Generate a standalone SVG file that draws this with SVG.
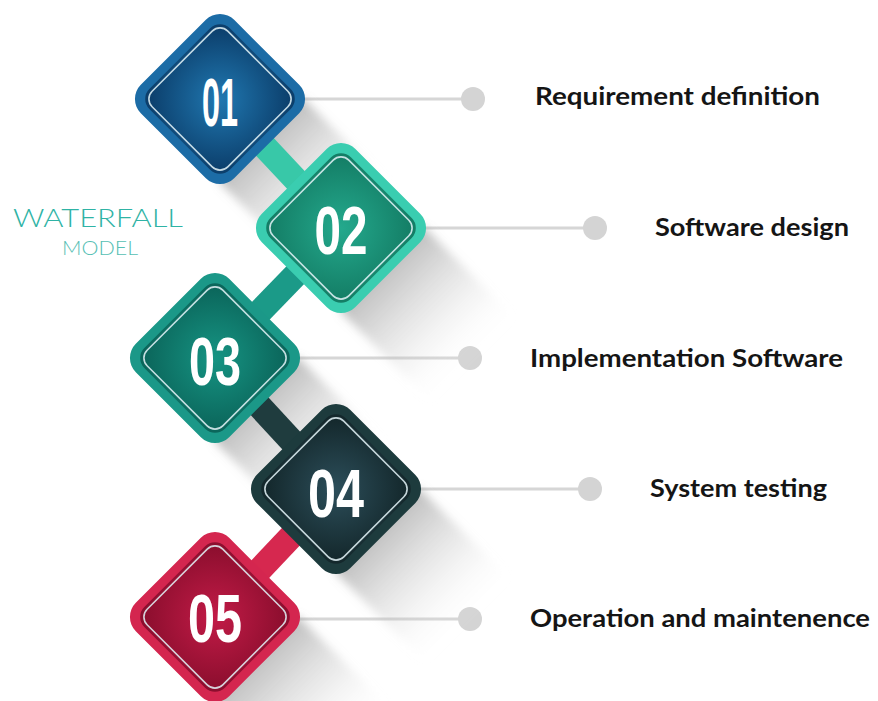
<svg xmlns="http://www.w3.org/2000/svg" xmlns:xlink="http://www.w3.org/1999/xlink" width="878" height="701" viewBox="0 0 878 701">
  <style>
    .num { font-family: "Liberation Sans", Arial, sans-serif; font-weight: 700; font-size: 68px; fill: #ffffff; text-anchor: middle; }
    .label { font-family: Lato, "Liberation Sans", sans-serif; font-weight: 700; font-size: 25px; fill: #151515; }
    .guide { stroke: #d6d6d6; stroke-width: 3; fill: none; }
    .dot { fill: #d4d4d4; }
    .bar { stroke-width: 25; stroke-linecap: butt; fill: none; }
    .rim { fill: none; stroke: #e4f4f8; stroke-width: 1.6; opacity: 0.85; }
    .shadow { fill: url(#shade); filter: url(#soft); }
  </style>
  <defs>
    <!-- rounded squares turned 45 degrees, centred on the origin -->
    <rect id="dOuter" x="-66" y="-66" width="132" height="132" rx="20" transform="rotate(45)"/>
    <rect id="dInner" x="-57" y="-57" width="114" height="114" rx="14" transform="rotate(45)"/>
    <rect id="dLine" x="-53.5" y="-53.5" width="107" height="107" rx="11" transform="rotate(45)"/>
    <!-- long cast shadow toward the lower right -->
    <polygon id="dShadow" points="0,0 84,0 174,90 90,174 0,84"/>
    <linearGradient id="shade" x1="0" y1="0" x2="1" y2="1">
      <stop offset="0.24" stop-color="#8a8a8a" stop-opacity="0.55"/>
      <stop offset="0.5" stop-color="#b0b0b0" stop-opacity="0.25"/>
      <stop offset="0.78" stop-color="#ffffff" stop-opacity="0"/>
    </linearGradient>
    <filter id="soft" x="-20%" y="-20%" width="140%" height="140%">
      <feGaussianBlur stdDeviation="5"/>
    </filter>
    <radialGradient id="g1" cx="0.5" cy="0.5" r="0.62">
      <stop offset="0" stop-color="#2078b1"/>
      <stop offset="1" stop-color="#0c3f6c"/>
    </radialGradient>
    <radialGradient id="g2" cx="0.5" cy="0.5" r="0.62">
      <stop offset="0" stop-color="#24a98d"/>
      <stop offset="1" stop-color="#147e66"/>
    </radialGradient>
    <radialGradient id="g3" cx="0.5" cy="0.5" r="0.62">
      <stop offset="0" stop-color="#169483"/>
      <stop offset="1" stop-color="#0b665b"/>
    </radialGradient>
    <radialGradient id="g4" cx="0.5" cy="0.5" r="0.62">
      <stop offset="0" stop-color="#2c4e5a"/>
      <stop offset="1" stop-color="#14282c"/>
    </radialGradient>
    <radialGradient id="g5" cx="0.5" cy="0.5" r="0.62">
      <stop offset="0" stop-color="#c21b47"/>
      <stop offset="1" stop-color="#8c0e2e"/>
    </radialGradient>
  </defs>

  <rect width="878" height="701" fill="#ffffff"/>

  <!-- title -->
  <g id="title" font-family="Lato, 'Liberation Sans', sans-serif" font-weight="300">
    <text x="13" y="227" font-size="26" fill="#2fb3a5" textLength="170" lengthAdjust="spacingAndGlyphs">WATERFALL</text>
    <text x="62" y="255" font-size="20" fill="#56c0b4" textLength="76" lengthAdjust="spacingAndGlyphs">MODEL</text>
  </g>

  <!-- guide lines and end dots -->
  <g id="guides">
    <line class="guide" x1="300" y1="99" x2="473" y2="99"/>
    <circle class="dot" cx="473" cy="99" r="12"/>
    <line class="guide" x1="420" y1="228" x2="595" y2="228"/>
    <circle class="dot" cx="595" cy="228" r="12"/>
    <line class="guide" x1="295" y1="358" x2="470" y2="358"/>
    <circle class="dot" cx="470" cy="358" r="12"/>
    <line class="guide" x1="415" y1="489" x2="590" y2="489"/>
    <circle class="dot" cx="590" cy="489" r="12"/>
    <line class="guide" x1="295" y1="619" x2="470" y2="619"/>
    <circle class="dot" cx="470" cy="619" r="12"/>
  </g>

  <!-- shadows -->
  <g id="shadows">
    <use href="#dShadow" class="shadow" transform="translate(220,99)"/>
    <use href="#dShadow" class="shadow" transform="translate(341,228)"/>
    <use href="#dShadow" class="shadow" transform="translate(215,358)"/>
    <use href="#dShadow" class="shadow" transform="translate(336,489)"/>
    <use href="#dShadow" class="shadow" transform="translate(215,617)"/>
  </g>

  <!-- connectors between steps -->
  <g id="connectors">
    <line class="bar" stroke="#38c8a8" x1="220" y1="99" x2="341" y2="228"/>
    <line class="bar" stroke="#1b9a88" x1="341" y1="228" x2="215" y2="358"/>
    <line class="bar" stroke="#1f3c3e" x1="215" y1="358" x2="336" y2="489"/>
    <line class="bar" stroke="#d6284f" x1="336" y1="489" x2="215" y2="617"/>
  </g>

  <g id="node-01" transform="translate(220,99)">
    <use href="#dOuter" fill="#1c6ca6"/>
    <use href="#dInner" fill="url(#g1)"/>
    <use href="#dLine" class="rim"/>
    <text class="num" x="0" y="27" textLength="36" lengthAdjust="spacingAndGlyphs">01</text>
  </g>

  <g id="node-02" transform="translate(341,228)">
    <use href="#dOuter" fill="#3acdb0"/>
    <use href="#dInner" fill="url(#g2)"/>
    <use href="#dLine" class="rim"/>
    <text class="num" x="0" y="26" textLength="53" lengthAdjust="spacingAndGlyphs">02</text>
  </g>

  <g id="node-03" transform="translate(215,358)">
    <use href="#dOuter" fill="#1b9888"/>
    <use href="#dInner" fill="url(#g3)"/>
    <use href="#dLine" class="rim"/>
    <text class="num" x="0" y="27" textLength="52" lengthAdjust="spacingAndGlyphs">03</text>
  </g>

  <g id="node-04" transform="translate(336,489)">
    <use href="#dOuter" fill="#1d3b3d"/>
    <use href="#dInner" fill="url(#g4)"/>
    <use href="#dLine" class="rim"/>
    <text class="num" x="0" y="28" textLength="56" lengthAdjust="spacingAndGlyphs">04</text>
  </g>

  <g id="node-05" transform="translate(215,617)">
    <use href="#dOuter" fill="#d4264f"/>
    <use href="#dInner" fill="url(#g5)"/>
    <use href="#dLine" class="rim"/>
    <text class="num" x="0" y="25" textLength="54" lengthAdjust="spacingAndGlyphs">05</text>
  </g>

  <!-- step labels -->
  <g id="labels">
    <text class="label" x="535" y="105" textLength="285" lengthAdjust="spacingAndGlyphs">Requirement definition</text>
    <text class="label" x="655" y="236" textLength="194" lengthAdjust="spacingAndGlyphs">Software design</text>
    <text class="label" x="530" y="367" textLength="313" lengthAdjust="spacingAndGlyphs">Implementation Software</text>
    <text class="label" x="650" y="497" textLength="177" lengthAdjust="spacingAndGlyphs">System testing</text>
    <text class="label" x="530" y="627" textLength="340" lengthAdjust="spacingAndGlyphs">Operation and maintenence</text>
  </g>
</svg>
